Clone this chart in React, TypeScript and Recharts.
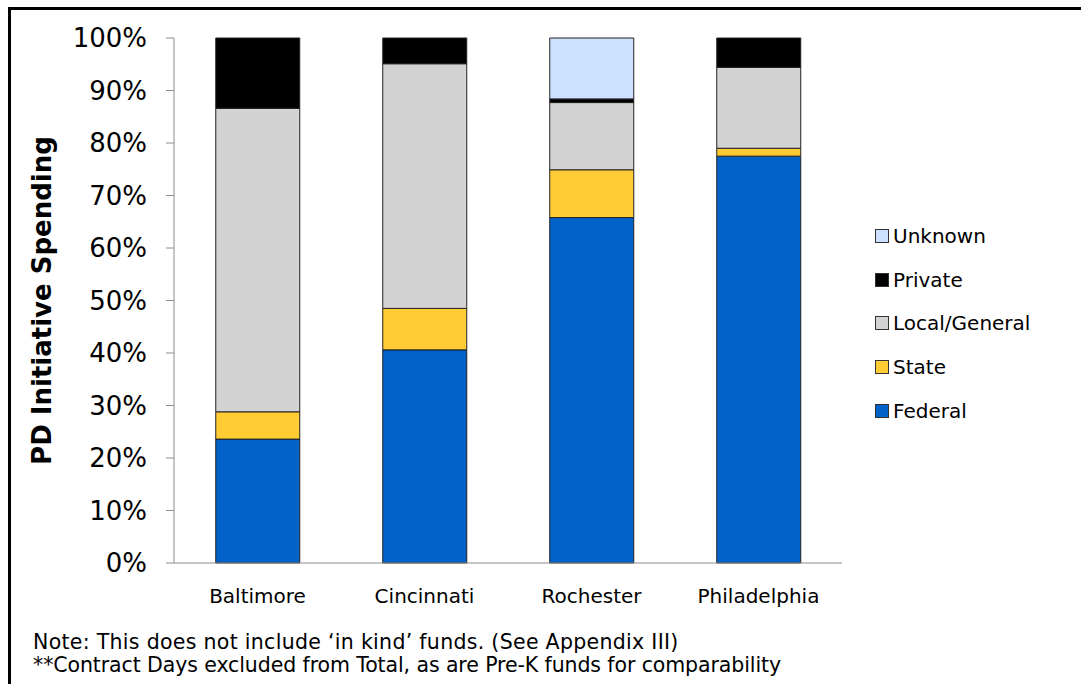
import React from "react";
import { BarChart, Bar, XAxis, YAxis } from "recharts";

const categories = ["Baltimore", "Cincinnati", "Rochester", "Philadelphia"];
const federal = [23.6, 40.6, 65.8, 77.5];
const stateFunds = [5.2, 7.9, 9.1, 1.5];
const localGeneral = [57.8, 46.6, 12.8, 15.4];
const privateFunds = [13.4, 4.9, 0.7, 5.6];
const unknown = [0, 0, 11.6, 0];
const yTicks = [0, 10, 20, 30, 40, 50, 60, 70, 80, 90, 100];
const boundaryTicks = [0, 1, 2, 3, 4];

const seriesNames = ["Federal", "State", "Local/General", "Private", "Unknown"];
const seriesKeys = ["federal", "state", "local", "private", "unknown"];
const seriesColors = ["#0062C8", "#FFCC33", "#D3D3D3", "#000000", "#CCE0FF"];

const data = categories.map((name, i) => ({
  name,
  federal: federal[i],
  state: stateFunds[i],
  local: localGeneral[i],
  private: privateFunds[i],
  unknown: unknown[i],
}));

const FONT = "'DejaVu Sans', Verdana, sans-serif";

const LegendBox = () => (
  <div style={{ position: "absolute", left: 875, top: 214, fontFamily: FONT, fontSize: 20, color: "#000" }}>
    {seriesNames
      .map((n, i) => ({ n, c: seriesColors[i] }))
      .reverse()
      .map((s) => (
        <div key={s.n} style={{ display: "flex", alignItems: "center", height: 43.7 }}>
          <span
            style={{
              display: "inline-block",
              width: 12,
              height: 12,
              background: s.c,
              border: "1px solid #333",
              marginRight: 4,
            }}
          />
          <span>{s.n}</span>
        </div>
      ))}
  </div>
);

export default function App() {
  return (
    <div style={{ position: "absolute", left: 0, top: 0, width: 1081, height: 684, background: "#fff", overflow: "hidden" }}>
      <div
        style={{
          position: "absolute",
          left: 8,
          top: 7,
          width: 1090,
          height: 700,
          borderTop: "3px solid #000",
          borderLeft: "3px solid #000",
        }}
      />
      <div style={{ position: "absolute", left: 0, top: 0 }}>
        <BarChart
          width={1081}
          height={684}
          data={data}
          margin={{ top: 38, right: 239, bottom: 81, left: 0 }}
          barCategoryGap="25%"
        >
          <XAxis
            xAxisId="b"
            type="number"
            domain={[0, 4]}
            ticks={boundaryTicks}
            tick={false}
            axisLine={false}
            tickLine={{ stroke: "#8c8c8c" }}
            tickSize={6}
            height={0}
            allowDataOverflow
          />
          <XAxis
            xAxisId="cat"
            dataKey="name"
            tickLine={false}
            tickSize={0}
            tickMargin={26}
            height={40}
            axisLine={{ stroke: "#8c8c8c" }}
            tick={{ fontFamily: FONT, fontSize: 20, fill: "#000" }}
          />
          <YAxis
            width={174}
            domain={[0, 100]}
            ticks={yTicks}
            interval={0}
            tickFormatter={(v) => `${v}%`}
            tickSize={8}
            tickMargin={19}
            axisLine={{ stroke: "#8c8c8c" }}
            tickLine={{ stroke: "#8c8c8c" }}
            tick={{ fontFamily: FONT, fontSize: 26, fill: "#000" }}
            label={{
              value: "PD Initiative Spending",
              angle: -90,
              position: "center",
              dx: -45,
              style: { fontFamily: FONT, fontSize: 26, fontWeight: "bold", fill: "#000" },
            }}
          />
          {seriesKeys.map((k, i) => (
            <Bar
              key={k}
              xAxisId="cat"
              dataKey={k}
              name={seriesNames[i]}
              stackId="a"
              fill={seriesColors[i]}
              stroke="#222"
              strokeWidth={1}
              isAnimationActive={false}
            />
          ))}
        </BarChart>
      </div>
      <LegendBox />
      <div
        style={{
          position: "absolute",
          left: 33,
          top: 631,
          fontFamily: FONT,
          fontSize: 20.5,
          lineHeight: "23px",
          color: "#000",
          whiteSpace: "nowrap",
        }}
      >
        <div style={{ letterSpacing: 0.3 }}>Note: This does not include ‘in kind’ funds. (See Appendix III)</div>
        <div style={{ letterSpacing: -0.1 }}>**Contract Days excluded from Total, as are Pre-K funds for comparability</div>
      </div>
    </div>
  );
}
